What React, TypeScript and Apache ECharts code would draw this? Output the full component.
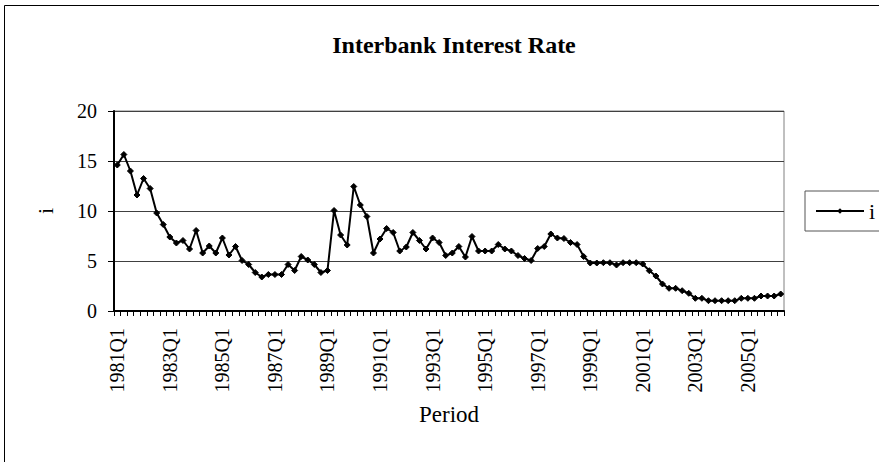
import React, { useEffect, useRef } from "react";
import * as echarts from "echarts";

const startYear = 1981;
const quarterCount = 102;
const categories: string[] = [];
for (let i = 0; i < quarterCount; i++) {
  categories.push(`${startYear + Math.floor(i / 4)}Q${(i % 4) + 1}`);
}

const rateValues = [
  14.6, 15.65, 14.0, 11.6, 13.25, 12.25, 9.8, 8.65, 7.4, 6.8,
  7.05, 6.2, 8.05, 5.8, 6.5, 5.8, 7.3, 5.6, 6.45, 5.05,
  4.65, 3.85, 3.4, 3.65, 3.65, 3.65, 4.65, 4.05, 5.45, 5.1,
  4.65, 3.85, 4.05, 10.05, 7.6, 6.6, 12.45, 10.6, 9.45, 5.8,
  7.2, 8.25, 7.85, 6.0, 6.4, 7.85, 7.05, 6.2, 7.3, 6.85,
  5.55, 5.8, 6.45, 5.4, 7.45, 6.0, 6.0, 6.0, 6.65, 6.2,
  6.0, 5.55, 5.25, 5.05, 6.25, 6.45, 7.7, 7.3, 7.25, 6.85,
  6.65, 5.45, 4.8, 4.8, 4.83, 4.83, 4.6, 4.83, 4.83, 4.83,
  4.7, 4.03, 3.5, 2.7, 2.27, 2.27, 2.03, 1.77, 1.27, 1.27,
  1.03, 1.03, 1.03, 1.03, 1.03, 1.27, 1.27, 1.27, 1.5, 1.5,
  1.5, 1.7,
];

const yTicks = [0, 5, 10, 15, 20];

const FONT = "'Liberation Serif', 'Times New Roman', serif";

export default function App() {
  const ref = useRef<HTMLDivElement>(null);
  useEffect(() => {
    if (!ref.current) return;
    const chart = echarts.init(ref.current, undefined, { renderer: "svg" });
    chart.setOption({
      animation: false,
      backgroundColor: "#ffffff",
      textStyle: { fontFamily: FONT, color: "#000" },
      title: {
        text: "Interbank Interest Rate",
        left: 449,
        textAlign: "center",
        top: 28,
        textStyle: { fontFamily: FONT, fontSize: 24, fontWeight: "bold", color: "#000" },
      },
      graphic: [
        {
          type: "rect",
          shape: { x: 4.5, y: 5.5, width: 900, height: 500 },
          style: { fill: "none", stroke: "#000", lineWidth: 1 },
          silent: true,
        },
      ],
      legend: {
        show: true,
        left: 805,
        top: 191,
        orient: "vertical",
        padding: [9, 10, 9, 10],
        itemWidth: 48,
        itemHeight: 7,
        itemGap: 5,
        borderColor: "#555",
        borderWidth: 1,
        textStyle: { fontFamily: FONT, fontSize: 22, color: "#000" },
        data: [{ name: "i" }],
      },
      grid: {
        left: 114,
        right: 95,
        top: 111,
        bottom: 151,
        show: true,
        borderColor: "#808080",
        borderWidth: 1,
        backgroundColor: "#fff",
      },
      xAxis: {
        type: "category",
        data: categories,
        boundaryGap: true,
        name: "Period",
        nameLocation: "middle",
        nameGap: 92,
        nameTextStyle: { fontFamily: FONT, fontSize: 23, color: "#000" },
        axisLine: { show: true, lineStyle: { color: "#000", width: 2 } },
        axisTick: { show: true, interval: 0, length: 5, lineStyle: { color: "#000", width: 1 } },
        axisLabel: {
          interval: 7,
          rotate: 90,
          margin: 17,
          fontFamily: FONT,
          fontSize: 20,
          color: "#000",
        },
        splitLine: { show: false },
      },
      yAxis: {
        type: "value",
        min: yTicks[0],
        max: yTicks[yTicks.length - 1],
        interval: 5,
        name: "i",
        nameLocation: "middle",
        nameGap: 58,
        nameRotate: 90,
        nameTextStyle: { fontFamily: FONT, fontSize: 22, color: "#000" },
        axisLine: { show: true, lineStyle: { color: "#000", width: 2 } },
        axisTick: { show: true, length: 6, lineStyle: { color: "#000", width: 1 } },
        axisLabel: { margin: 17, fontFamily: FONT, fontSize: 20, color: "#000" },
        splitLine: { show: true, lineStyle: { color: "#404040", width: 1 } },
      },
      series: [
        {
          name: "i",
          type: "line",
          data: rateValues,
          symbol: "diamond",
          symbolSize: 6,
          showAllSymbol: true,
          lineStyle: { color: "#000", width: 2 },
          itemStyle: { color: "#000", borderColor: "#000" },
        },
      ],
    });
    return () => chart.dispose();
  }, []);
  return (
    <div
      ref={ref}
      style={{ position: "fixed", left: 0, top: 0, width: 879, height: 462 }}
    />
  );
}
